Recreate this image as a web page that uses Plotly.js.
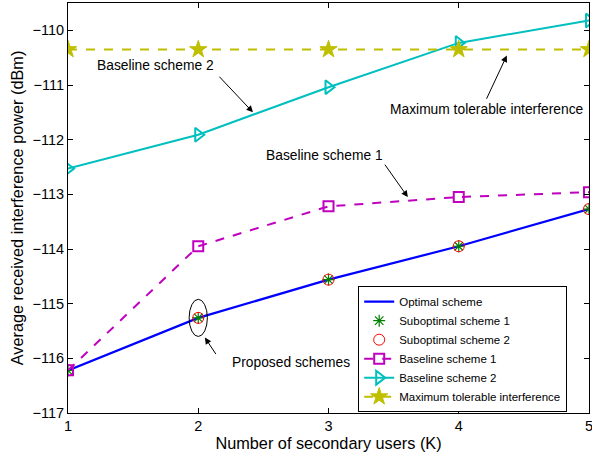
<!DOCTYPE html>
<html>
<head>
<meta charset="utf-8">
<script src="https://cdn.plot.ly/plotly-3.0.1.min.js"></script>
<style>html,body{margin:0;padding:0;background:#fff;}#chart{width:592px;height:457px;}</style>
</head>
<body>
<div id="chart"></div>
<script>
const users = [1, 2, 3, 4, 5];
const optimal = [-116.22, -115.26, -114.56, -113.95, -113.27];
const subopt1 = [-116.22, -115.26, -114.56, -113.95, -113.27];
const subopt2 = [-116.22, -115.26, -114.56, -113.95, -113.27];
const baseline1 = [-116.22, -113.95, -113.22, -113.05, -112.96];
const baseline2 = [-112.53, -111.91, -111.04, -110.23, -109.82];
const maxTolerable = [-110.35, -110.35, -110.35, -110.35, -110.35];
const yTicks = [-117, -116, -115, -114, -113, -112, -111, -110];

const font = 'Liberation Sans, Arial, sans-serif';
const traces = [
  {x: users, y: optimal, name: 'Optimal scheme', mode: 'lines',
   line: {color: '#0000ff', width: 2.2}},
  {x: users, y: subopt1, name: 'Suboptimal scheme 1', mode: 'markers',
   marker: {symbol: 'asterisk-open', size: 10, color: '#008000', line: {color: '#008000', width: 1.2}}},
  {x: users, y: subopt2, name: 'Suboptimal scheme 2', mode: 'markers',
   marker: {symbol: 'circle-open', size: 11, color: '#ff0000', line: {color: '#ff0000', width: 1}}},
  {x: users, y: baseline1, name: 'Baseline scheme 1', mode: 'lines+markers',
   line: {color: '#bf00bf', width: 2, dash: 'dash'},
   marker: {symbol: 'square-open', size: 10, color: '#bf00bf', line: {color: '#bf00bf', width: 2}}},
  {x: users, y: baseline2, name: 'Baseline scheme 2', mode: 'lines+markers',
   line: {color: '#00bfbf', width: 2},
   marker: {symbol: 'triangle-right-open', size: 12, color: '#00bfbf', line: {color: '#00bfbf', width: 2}}},
  {x: users, y: maxTolerable, name: 'Maximum tolerable interference', mode: 'lines+markers',
   line: {color: '#bfbf00', width: 2, dash: 'dash'},
   marker: {symbol: 'star', size: 13, color: '#bfbf00', line: {color: '#bfbf00', width: 1}}}
];

function arrow(tx, ty, hx, hy) {
  return {x: hx, y: hy, ax: tx, ay: ty, axref: 'x', ayref: 'y', xref: 'x', yref: 'y',
    text: '', showarrow: true, arrowhead: 2, arrowsize: 1.3, arrowwidth: 1, arrowcolor: '#000'};
}
function label(t, x, y) {
  return {x: x, y: y, xref: 'x', yref: 'y', text: t, showarrow: false,
    font: {family: font, size: 13.8, color: '#000'}};
}

const layout = {
  width: 592, height: 457,
  margin: {l: 68, r: 3, t: 3, b: 44},
  paper_bgcolor: '#fff', plot_bgcolor: '#fff',
  font: {family: font, color: '#000'},
  showlegend: true,
  legend: {x: 0.557, y: 0.002, xanchor: 'left', yanchor: 'bottom',
    bordercolor: '#000', borderwidth: 1, bgcolor: '#fff',
    font: {family: font, size: 11.5}, tracegroupgap: 0, itemwidth: 30},
  xaxis: {range: [1, 5], tickvals: users, ticktext: users.map(String),
    showline: true, linecolor: '#000', linewidth: 1, mirror: 'ticks',
    ticks: 'inside', ticklen: 5, tickcolor: '#000', showgrid: false, zeroline: false,
    ticklabeloverflow: 'allow',
    tickfont: {family: font, size: 14.5},
    title: {text: 'Number of secondary users (K)', font: {family: font, size: 16.3}, standoff: 3}},
  yaxis: {range: [-117, -109.5], tickvals: yTicks, ticktext: yTicks.map(v => '\u2212' + Math.abs(v)),
    showline: true, linecolor: '#000', linewidth: 1, mirror: 'ticks',
    ticks: 'inside', ticklen: 5, tickcolor: '#000', showgrid: false, zeroline: false,
    tickfont: {family: font, size: 14.5},
    title: {text: 'Average received interference power (dBm)', font: {family: font, size: 16.3}, standoff: 4}},
  shapes: [
    {type: 'circle', xref: 'x', yref: 'y', x0: users[1] - 0.07, x1: users[1] + 0.07,
     y0: optimal[1] - 0.34, y1: optimal[1] + 0.34, line: {color: '#000', width: 1}}
  ],
  annotations: [
    label('Baseline scheme 2', 1.675, -110.64),
    arrow(2.151, -110.82, 2.42, -111.5),
    label('Maximum tolerable interference', 4.216, -111.45),
    arrow(4.208, -111.28, 4.369, -110.46),
    label('Baseline scheme 1', 2.97, -112.29),
    arrow(3.425, -112.43, 3.609, -113.05),
    label('Proposed schemes', 2.711, -116.08),
    arrow(2.143, -115.95, 2.051, -115.62)
  ]
};

Plotly.newPlot('chart', traces, layout, {staticPlot: true, displayModeBar: false});
</script>
</body>
</html>
